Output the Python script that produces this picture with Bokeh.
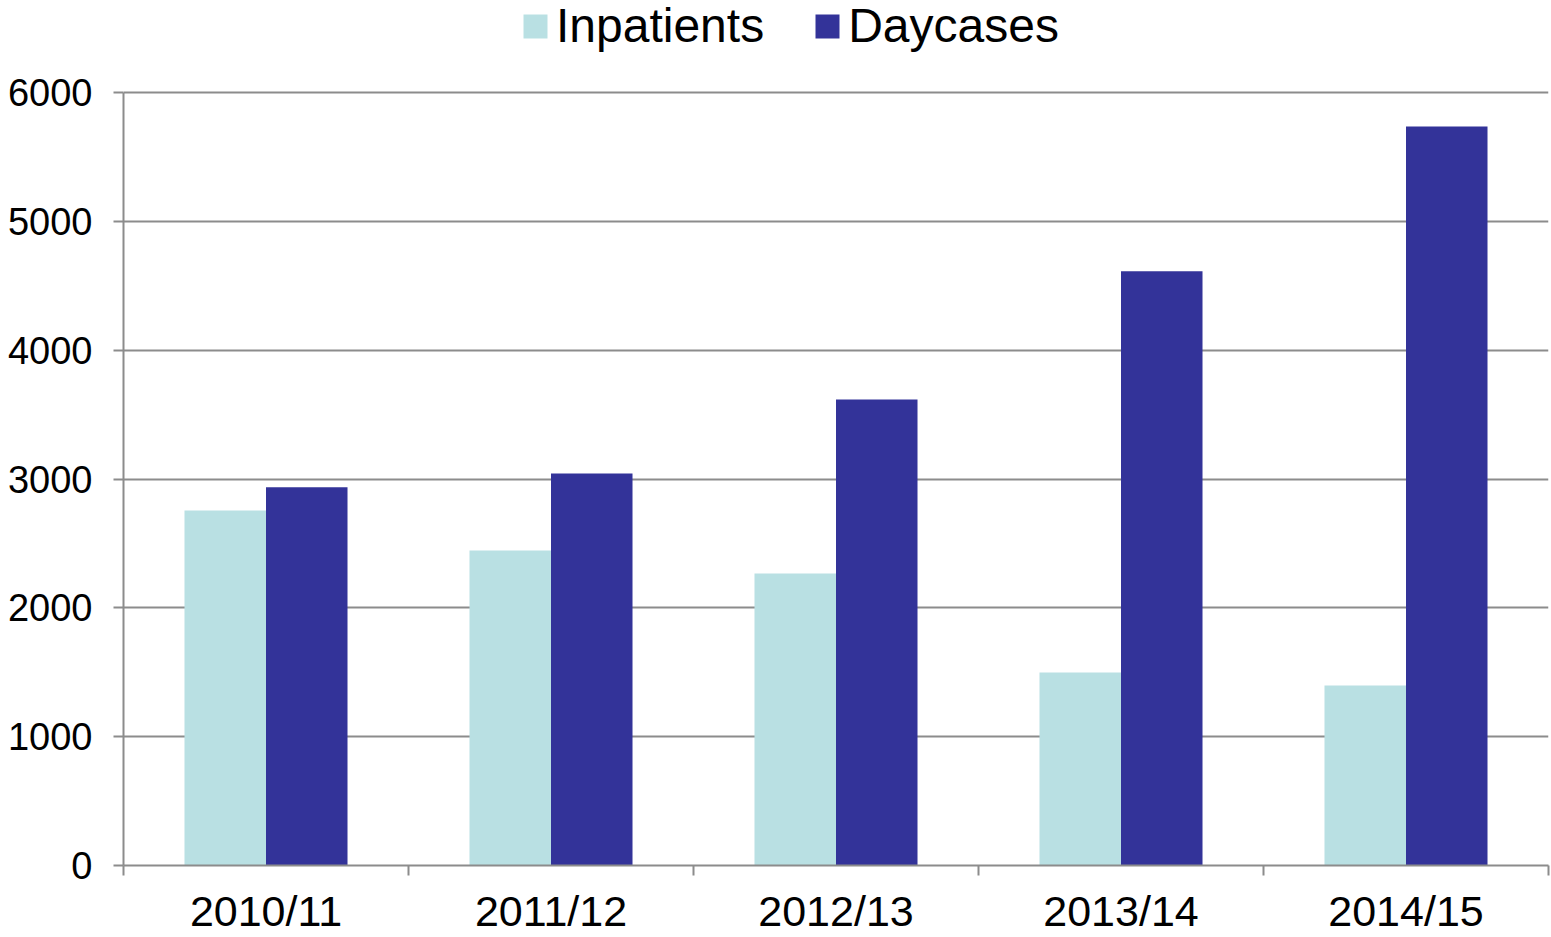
from bokeh.plotting import figure
from bokeh.models import Legend, LegendItem, FixedTicker, Range1d, ColumnDataSource
from bokeh.embed import file_html
from bokeh.resources import INLINE

years = ["2010/11", "2011/12", "2012/13", "2013/14", "2014/15"]
inpatients = [2756, 2445, 2267, 1498, 1397]
daycases = [2935, 3043, 3618, 4612, 5737]
y_ticks = [0, 1000, 2000, 3000, 4000, 5000, 6000]

FONT = "Liberation Sans"
GRID = "#8c8c8c"
C_IN = "#B9E0E3"
C_DAY = "#333399"

n = len(years)
centers = [i + 0.5 for i in range(n)]
bw = 0.286

W, H = 1551, 937
BT, BB, BL, BR = 0, 72, 123, 3
frame_h = H - BT - BB
y_top_px = 92  # pixel row of the 6000 line
y_end = 6000 * frame_h / (frame_h - (y_top_px - BT))

p = figure(width=W, height=H, output_backend="svg", toolbar_location=None,
           x_range=Range1d(0, n), y_range=Range1d(0, y_end),
           min_border_left=BL, min_border_right=BR, min_border_top=BT, min_border_bottom=BB)
p.outline_line_color = None
p.background_fill_color = "white"

src_in = ColumnDataSource(dict(x=[c - bw / 2 for c in centers], top=inpatients))
src_day = ColumnDataSource(dict(x=[c + bw / 2 for c in centers], top=daycases))
r_in = p.vbar(x="x", top="top", width=bw, source=src_in, fill_color=C_IN, line_color=None)
r_day = p.vbar(x="x", top="top", width=bw, source=src_day, fill_color=C_DAY, line_color=None)

# x axis
xa = p.xaxis[0]
xa.ticker = FixedTicker(ticks=centers, minor_ticks=list(range(n + 1)))
xa.major_label_overrides = {c: y for c, y in zip(centers, years)}
xa.major_tick_line_color = None
xa.major_tick_in = 0
xa.major_tick_out = 10
xa.minor_tick_in = 0
xa.minor_tick_out = 10
xa.minor_tick_line_color = GRID
xa.minor_tick_line_width = 2
xa.axis_line_color = GRID
xa.axis_line_width = 2
xa.major_label_text_font = FONT
xa.major_label_text_font_size = "43px"
xa.major_label_text_color = "black"
xa.major_label_standoff = 11

ya = p.yaxis[0]
ya.ticker = FixedTicker(ticks=y_ticks)
ya.bounds = (0, 6000)
ya.minor_tick_line_color = None
ya.major_tick_in = 0
ya.major_tick_out = 10
ya.major_tick_line_color = GRID
ya.major_tick_line_width = 2
ya.axis_line_color = GRID
ya.axis_line_width = 2
ya.major_label_text_font = FONT
ya.major_label_text_font_size = "38px"
ya.major_label_text_color = "black"
ya.major_label_standoff = 21

p.xgrid.grid_line_color = None
p.ygrid.grid_line_color = GRID
p.ygrid.grid_line_width = 2
p.ygrid.ticker = FixedTicker(ticks=y_ticks)

legend = Legend(items=[LegendItem(label="Inpatients", renderers=[r_in]),
                       LegendItem(label="Daycases", renderers=[r_day])],
                location=(397, frame_h - 53), orientation="horizontal",
                glyph_width=30, glyph_height=30, label_standoff=6, spacing=48,
                padding=0, margin=0, border_line_color=None, background_fill_alpha=0,
                label_text_font=FONT, label_text_font_size="48px", label_text_color="black")
p.add_layout(legend, "center")

open("out.html", "w").write(file_html(p, INLINE))
